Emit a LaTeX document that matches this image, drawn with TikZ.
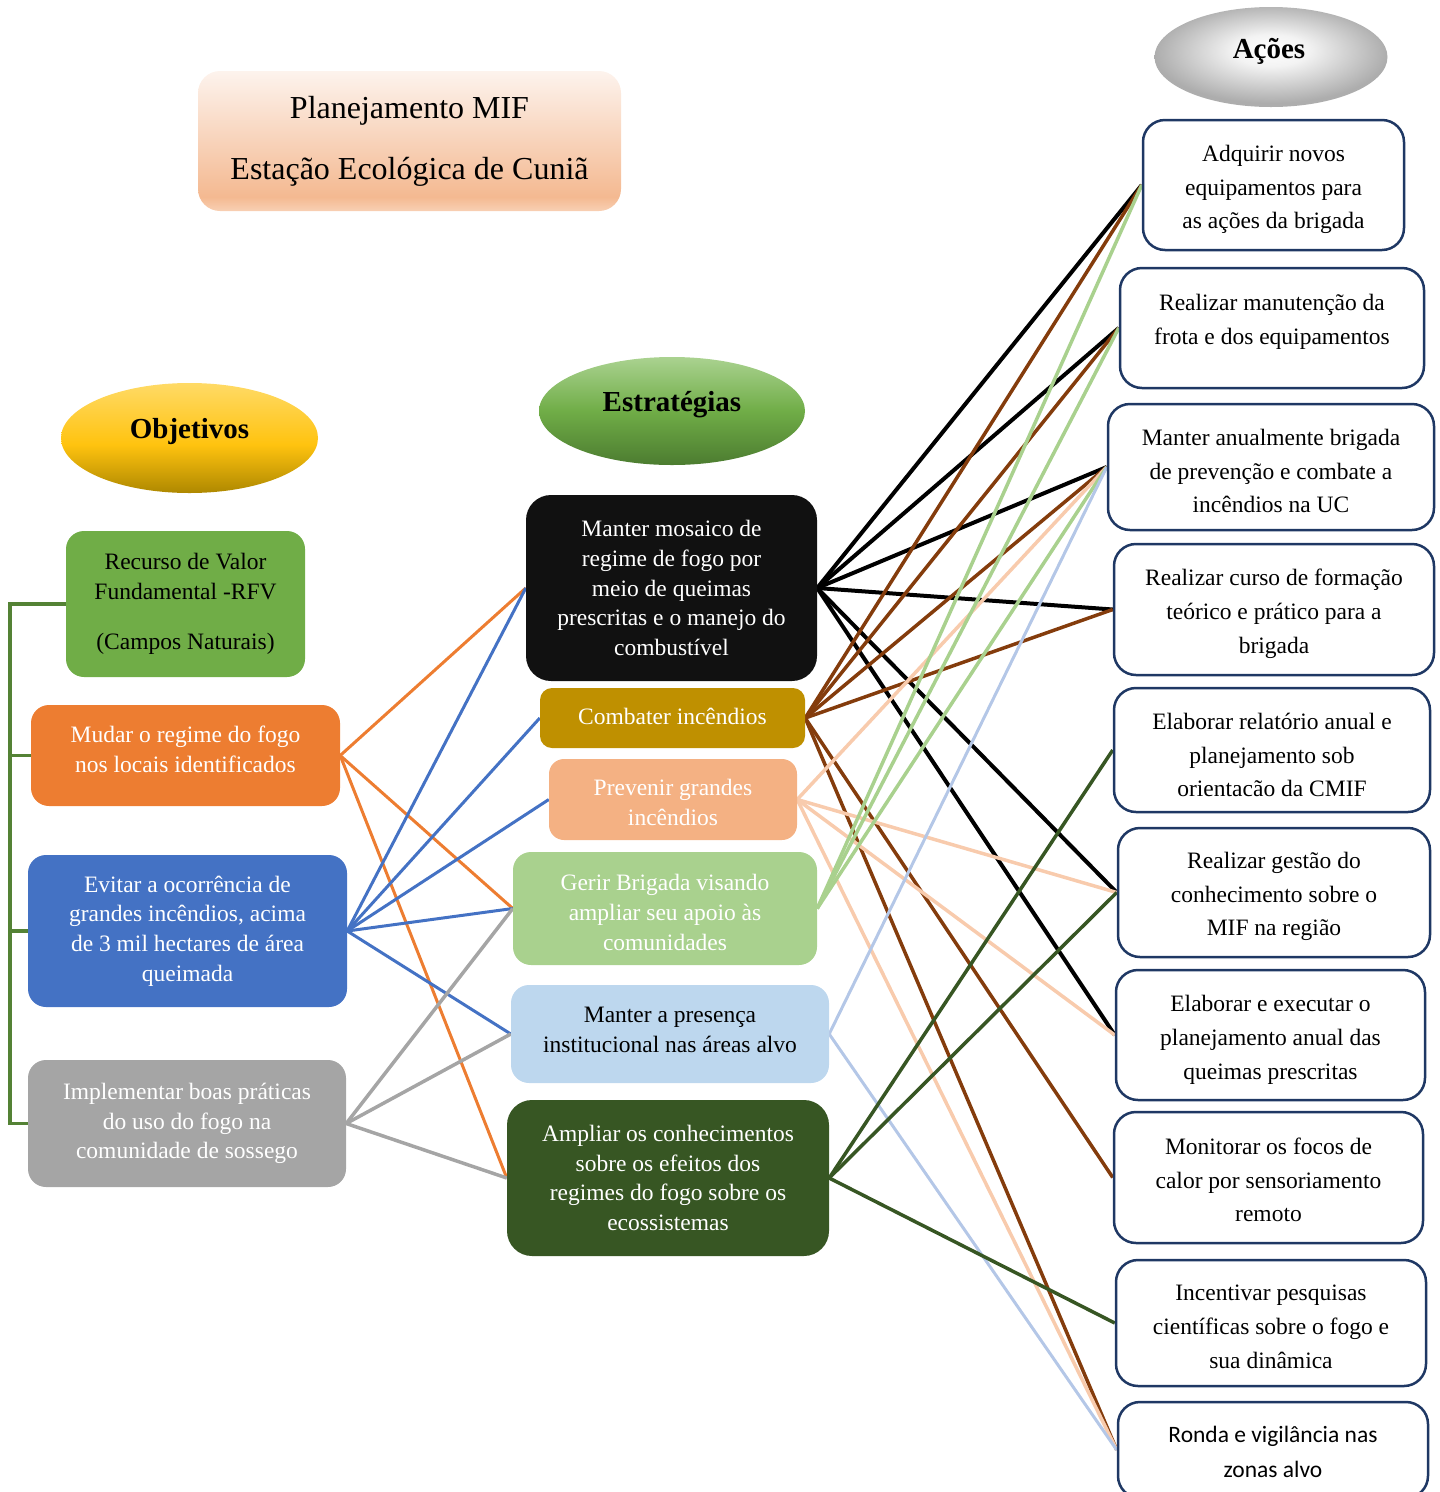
\documentclass[tikz,border=0pt]{standalone}
\usepackage{fontspec}
\setmainfont{Liberation Serif}
\newfontfamily\calibri{Carlito}
\usetikzlibrary{shapes.geometric,backgrounds}

\definecolor{cRFV}{HTML}{70AD47}
\definecolor{cMud}{HTML}{ED7D31}
\definecolor{cEvi}{HTML}{4472C4}
\definecolor{cImp}{HTML}{A5A5A5}
\definecolor{cBrk}{HTML}{548235}
\definecolor{cS1}{HTML}{111111}
\definecolor{cS2}{HTML}{BF9000}
\definecolor{cS3}{HTML}{F4B183}
\definecolor{cS4}{HTML}{A9D18E}
\definecolor{cS5}{HTML}{BDD7EE}
\definecolor{cS6}{HTML}{375623}
\definecolor{navy}{HTML}{1F3864}
\definecolor{lBrown}{HTML}{843C0C}
\definecolor{lPeach}{HTML}{F8CBAD}
\definecolor{lGreen}{HTML}{A9D18E}
\definecolor{lBlue}{HTML}{B4C7E7}
\definecolor{lDGreen}{HTML}{375623}
\definecolor{ttlB}{HTML}{F8D0B4}
\definecolor{ttlM}{HTML}{F4B991}
\definecolor{ttlT}{HTML}{FDF3ED}
\definecolor{objB}{HTML}{AE8800}
\definecolor{objM}{HTML}{FFC30F}
\definecolor{objT}{HTML}{FFDA66}
\definecolor{estB}{HTML}{4C7C30}
\definecolor{estM}{HTML}{70AD47}
\definecolor{estT}{HTML}{AAD290}
\definecolor{acIn}{HTML}{FFFFFF}
\definecolor{acMid}{HTML}{F3F3F3}
\definecolor{acOut}{HTML}{ADADAD}

\pgfdeclareverticalshading{titleshade}{100bp}{color(0bp)=(ttlB); color(25bp)=(ttlB); color(30bp)=(ttlM); color(75bp)=(ttlT); color(100bp)=(ttlT)}
\pgfdeclareverticalshading{objshade}{100bp}{color(0bp)=(objB); color(25bp)=(objB); color(47bp)=(objM); color(75bp)=(objT); color(100bp)=(objT)}
\pgfdeclareverticalshading{estshade}{100bp}{color(0bp)=(estB); color(25bp)=(estB); color(50bp)=(estM); color(75bp)=(estT); color(100bp)=(estT)}
\pgfdeclareradialshading{acshade}{\pgfpoint{0bp}{4bp}}{color(0bp)=(acIn); color(8bp)=(acMid); color(25bp)=(acOut); color(50bp)=(acOut)}

\tikzset{
  box/.style={rounded corners=18pt, inner sep=0pt, align=center,
    font=\fontsize{23.5}{29.6}\selectfont},
  objbox/.style={box, text=white},
  strat/.style={box, text=white},
  stext/.style={inner sep=0pt, align=center, font=\fontsize{23.5}{29.6}\selectfont},
  actbox/.style={draw=navy, line width=2.5pt, fill=white, rounded corners=22pt, inner sep=0pt},
  acttext/.style={inner sep=0pt, align=center, font=\fontsize{23.5}{33.8}\selectfont},
  headtext/.style={inner sep=0pt, font=\fontsize{29}{34}\selectfont\bfseries},
  head/.style={ellipse, inner sep=0pt},
  bracket/.style={cBrk, line width=3.5pt},
  link/.style={line width=3.5pt},
}

\begin{document}
\begin{tikzpicture}[x=1pt,y=-1pt]
\useasboundingbox (0,0) rectangle (1440,1492);

% title
\node[box, shading=titleshade, rounded corners=22pt, minimum width=423pt, minimum height=140pt,
  font=\fontsize{32}{61}\selectfont] (ttl) at (409.5,141) {Planejamento MIF\\Estação Ecológica de Cuniã};

% headers
\node[head, shading=objshade, minimum width=257pt, minimum height=110pt] (obj) at (189.5,438) {};
\node[headtext] (objt) at (189.5,432) {Objetivos};
\node[head, shading=estshade, minimum width=266pt, minimum height=108pt] (est) at (672,411) {};
\node[headtext] (estt) at (672,405) {Estratégias};
\node[head, shading=acshade, minimum width=233pt, minimum height=100pt] (aco) at (1271,57) {};
\node[headtext] (acot) at (1269,51) {Ações};

% objectives
\node[box, fill=cRFV, text=black, minimum width=239pt, minimum height=146pt] (rfv) at (185.5,604)
  {Recurso de Valor\\Fundamental -RFV\\[21pt](Campos Naturais)};
\node[objbox, fill=cMud, minimum width=309pt, minimum height=101pt] (mud) at (185.5,755.5) {};
\node[stext, text=white] (mudt) at (185.5,749.5) {Mudar o regime do fogo\\nos locais identificados};
\node[objbox, fill=cEvi, minimum width=319pt, minimum height=152pt] (evi) at (187.5,931)
  {Evitar a ocorrência de\\grandes incêndios, acima\\de 3 mil hectares de área\\queimada};
\node[objbox, fill=cImp, minimum width=318pt, minimum height=127pt] (imp) at (187,1123.5)
  {Implementar boas práticas\\do uso do fogo na\\comunidade de sossego};

% bracket
\coordinate (brk) at (10,604);
\draw[bracket] (rfv.west) -- (rfv.west -| brk) -- (imp.west -| brk) -- (imp.west);
\draw[bracket] (mud.west -| brk) -- (mud.west);
\draw[bracket] (evi.west -| brk) -- (evi.west);

% strategies
\node[strat, fill=cS1, rounded corners=25pt, minimum width=291pt, minimum height=186pt] (s1) at (671.5,588)
  {Manter mosaico de\\regime de fogo por\\meio de queimas\\prescritas e o manejo do\\combustível};
\node[strat, fill=cS2, rounded corners=12pt, minimum width=265pt, minimum height=60pt] (s2) at (672.5,718) {};
\node[stext, text=white] (s2t) at (672.5,716) {Combater incêndios};
\node[strat, fill=cS3, rounded corners=15pt, minimum width=248pt, minimum height=81pt] (s3) at (673,799.5) {};
\node[stext, text=white] (s3t) at (673,802.5) {Prevenir grandes\\incêndios};
\node[strat, fill=cS4, minimum width=304pt, minimum height=113pt] (s4) at (665,908.5) {};
\node[stext, text=white] (s4t) at (665,912.5) {Gerir Brigada visando\\ampliar seu apoio às\\comunidades};
\node[strat, fill=cS5, minimum width=318pt, minimum height=98pt] (s5) at (670,1034) {};
\node[stext, text=black] (s5t) at (670,1030) {Manter a presença\\institucional nas áreas alvo};
\node[strat, fill=cS6, rounded corners=25pt, minimum width=322pt, minimum height=156pt] (s6) at (668,1178)
  {Ampliar os conhecimentos\\sobre os efeitos dos\\regimes do fogo sobre os\\ecossistemas};

% actions
\node[actbox, minimum width=261pt, minimum height=130pt] (a1) at (1273.5,185) {};
\node[acttext] (a1t) at (1273.5,189.5) {Adquirir novos\\equipamentos para\\as ações da brigada};
\node[actbox, minimum width=304pt, minimum height=120pt] (a2) at (1272,328) {};
\node[acttext] (a2t) at (1272,322) {Realizar manutenção da\\frota e dos equipamentos};
\node[actbox, minimum width=326pt, minimum height=126pt] (a3) at (1271,467) {};
\node[acttext] (a3t) at (1271,471) {Manter anualmente brigada\\de prevenção e combate a\\incêndios na UC};
\node[actbox, minimum width=320pt, minimum height=131pt] (a4) at (1274,609.5) {};
\node[acttext] (a4t) at (1274,613.5) {Realizar curso de formação\\teórico e prático para a\\brigada};
\node[actbox, minimum width=316pt, minimum height=124pt] (a5) at (1272,750) {};
\node[acttext] (a5t) at (1272,755) {Elaborar relatório anual e\\planejamento sob\\orientacão da CMIF};
\node[actbox, minimum width=312pt, minimum height=129pt] (a6) at (1274,892.5) {};
\node[acttext] (a6t) at (1274,896.5) {Realizar gestão do\\conhecimento sobre o\\MIF na região};
\node[actbox, minimum width=309pt, minimum height=130pt] (a7) at (1270.5,1035) {};
\node[acttext] (a7t) at (1270.5,1040) {Elaborar e executar o\\planejamento anual das\\queimas prescritas};
\node[actbox, minimum width=309pt, minimum height=131pt] (a8) at (1268.5,1177.5) {};
\node[acttext] (a8t) at (1268.5,1180) {Monitorar os focos de\\calor por sensoriamento\\remoto};
\node[actbox, minimum width=310pt, minimum height=126pt] (a9) at (1271,1323) {};
\node[acttext] (a9t) at (1271,1327) {Incentivar pesquisas\\científicas sobre o fogo e\\sua dinâmica};
\node[actbox, minimum width=310pt, minimum height=96pt] (a10) at (1273,1450) {};
\node[acttext, font=\calibri\fontsize{23.5}{35}\selectfont] (a10t) at (1273,1451.5) {Ronda e vigilância nas\\zonas alvo};

% connectors
\begin{scope}[on background layer]
  \foreach \t in {s1,s4,s6} \draw[link, cMud, line width=3pt] (mud.east) -- (\t.west);
  \foreach \t in {s1,s2,s3,s4,s5} \draw[link, cEvi, line width=3pt] (evi.east) -- (\t.west);
  \foreach \t in {s4,s5,s6} \draw[link, cImp] (imp.east) -- (\t.west);

  \foreach \t in {a1,a2,a3,a4,a6,a7} \draw[link, black, line width=4pt] (s1.east) -- (\t.west);
  \foreach \t in {a1,a2,a3,a4,a8,a10} \draw[link, lBrown] (s2.east) -- (\t.west);
  \foreach \t in {a3,a6,a7,a10} \draw[link, lPeach] (s3.east) -- (\t.west);
  \foreach \t in {a1,a2,a3} \draw[link, lGreen] (s4.east) -- (\t.west);
  \foreach \t in {a3,a10} \draw[link, lBlue, line width=3pt] (s5.east) -- (\t.west);
  \foreach \t in {a5,a6,a9} \draw[link, lDGreen] (s6.east) -- (\t.west);
\end{scope}
\end{tikzpicture}
\end{document}
